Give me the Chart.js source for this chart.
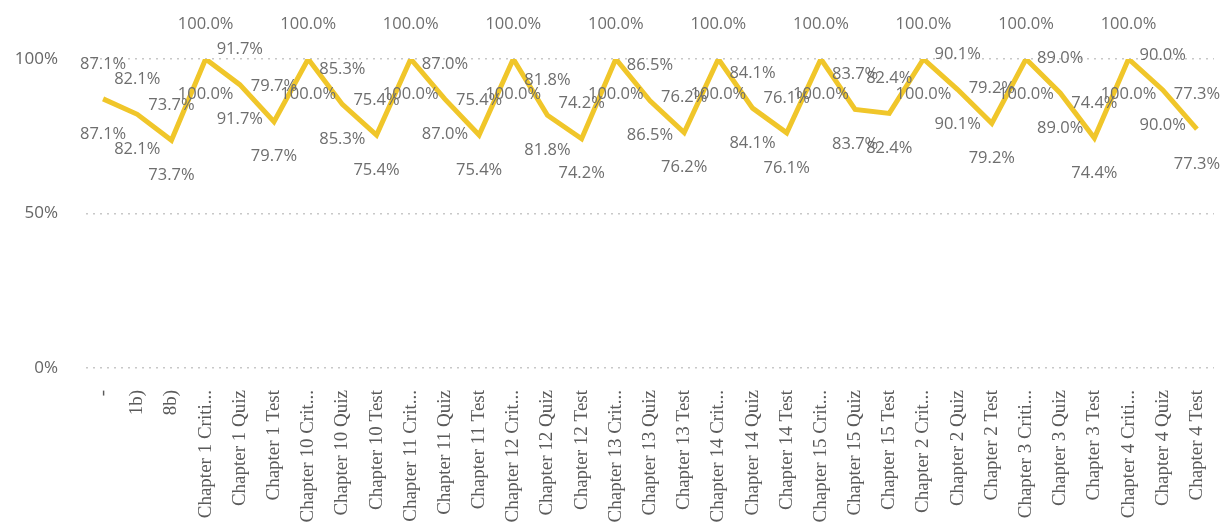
<!DOCTYPE html>
<html>
<head>
<meta charset="utf-8">
<script src="https://cdn.jsdelivr.net/npm/chart.js@4"></script>
<style>
  html, body { margin: 0; padding: 0; background: #fff; }
  #wrap { width: 1224px; height: 531px; position: relative; }
</style>
</head>
<body>
<div id="wrap"><canvas id="scoreChart"></canvas></div>
<script>
// categories as shown on the axis (already truncated like the original)
const categories = [
    '-', '1b)', '8b)',
    'Chapter 1 Criti...', 'Chapter 1 Quiz', 'Chapter 1 Test',
    'Chapter 10 Crit...', 'Chapter 10 Quiz', 'Chapter 10 Test',
    'Chapter 11 Crit...', 'Chapter 11 Quiz', 'Chapter 11 Test',
    'Chapter 12 Crit...', 'Chapter 12 Quiz', 'Chapter 12 Test',
    'Chapter 13 Crit...', 'Chapter 13 Quiz', 'Chapter 13 Test',
    'Chapter 14 Crit...', 'Chapter 14 Quiz', 'Chapter 14 Test',
    'Chapter 15 Crit...', 'Chapter 15 Quiz', 'Chapter 15 Test',
    'Chapter 2 Crit...', 'Chapter 2 Quiz', 'Chapter 2 Test',
    'Chapter 3 Criti...', 'Chapter 3 Quiz', 'Chapter 3 Test',
    'Chapter 4 Criti...', 'Chapter 4 Quiz', 'Chapter 4 Test'
];

// percent scores
const scores = [
    87.1, 82.1, 73.7,
    100.0, 91.7, 79.7,
    100.0, 85.3, 75.4,
    100.0, 87.0, 75.4,
    100.0, 81.8, 74.2,
    100.0, 86.5, 76.2,
    100.0, 84.1, 76.1,
    100.0, 83.7, 82.4,
    100.0, 90.1, 79.2,
    100.0, 89.0, 74.4,
    100.0, 90.0, 77.3
];

const yTicks = [0, 50, 100];

// labels drawn above and below each point, like the original visual
const pointLabels = {
    id: 'pointLabels',
    afterDatasetsDraw(chart) {
        const ctx = chart.ctx;
        const meta = chart.getDatasetMeta(0);
        ctx.save();
        ctx.font = '16.5px "Open Sans", sans-serif';
        ctx.fillStyle = '#6e6e6e';
        ctx.textAlign = 'center';
        ctx.textBaseline = 'middle';
        meta.data.forEach((pt, i) => {
            const txt = scores[i].toFixed(1) + '%';
            ctx.fillText(txt, pt.x, pt.y - 35);
            ctx.fillText(txt, pt.x, pt.y + 35);
        });
        ctx.restore();
    }
};

new Chart(document.getElementById('scoreChart'), {
    type: 'line',
    data: {
        labels: categories,
        datasets: [{
            data: scores,
            borderColor: '#F0C62A',
            borderWidth: 5,
            pointRadius: 0,
            tension: 0,
            fill: false
        }]
    },
    options: {
        responsive: true,
        maintainAspectRatio: false,
        animation: false,
        layout: { padding: { top: 59, right: 10, left: 6, bottom: 6 } },
        plugins: {
            legend: { display: false },
            tooltip: { enabled: false }
        },
        scales: {
            x: {
                offset: true,
                afterFit: (axis) => {
                    axis.height = 157;
                    axis.paddingLeft = 0;
                    axis.paddingRight = 0;
                },
                grid: { display: false },
                border: { display: false },
                ticks: {
                    autoSkip: false,
                    maxRotation: 90,
                    minRotation: 90,
                    color: '#5a5a5a',
                    padding: 14,
                    font: { family: '"Liberation Serif", serif', size: 19 }
                }
            },
            y: {
                min: 0,
                max: 100,
                afterBuildTicks: (axis) => { axis.ticks = yTicks.map(v => ({ value: v })); },
                afterFit: (axis) => { axis.width = 80; },
                grid: { color: '#c8c8c8', lineWidth: 1.5, drawTicks: false },
                border: { display: false, dash: [2, 5] },
                ticks: {
                    color: '#666',
                    padding: 28,
                    font: { family: '"Open Sans", sans-serif', size: 17 },
                    callback: (v) => v + '%'
                }
            }
        }
    },
    plugins: [pointLabels]
});
</script>
</body>
</html>
